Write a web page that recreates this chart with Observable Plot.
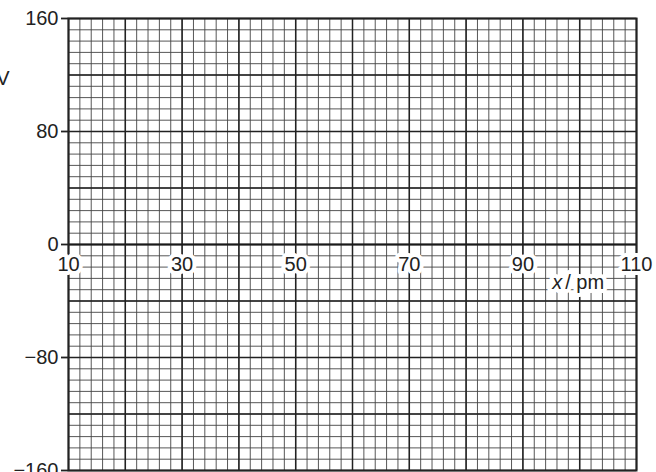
<!DOCTYPE html>
<html>
<head>
<meta charset="utf-8">
<script src="https://cdn.jsdelivr.net/npm/d3@7"></script>
<script src="https://cdn.jsdelivr.net/npm/@observablehq/plot@0.6"></script>
<style>
  html, body { margin: 0; padding: 0; background: #fff; }
  #chart { width: 656px; height: 472px; overflow: hidden; }
</style>
</head>
<body>
<div id="chart"></div>
<script>
// Axis extents and tick labels
const xDomain = [10, 110];
const yDomain = [-160, 160];
const xTickLabels = [10, 30, 50, 70, 90, 110];
const yTickLabels = [160, 80, 0, -80, -160];
const xMinorStep = 2, xMajorStep = 10;
const yMinorStep = 8, yMajorStep = 40;
const xAxisLabel = "x";
const xAxisUnit = "/ pm";
const yAxisLabel = "V";

const xMinor = d3.range(xDomain[0], xDomain[1] + 0.001, xMinorStep);
const xMajor = d3.range(xDomain[0], xDomain[1] + 0.001, xMajorStep);
const yMinor = d3.range(yDomain[0], yDomain[1] + 0.001, yMinorStep);
const yMajor = d3.range(yDomain[0], yDomain[1] + 0.001, yMajorStep);

const fmt = d => d < 0 ? "\u2212" + Math.abs(d) : String(d);
const font = "'Liberation Sans', Arial, Helvetica, sans-serif";
const fs = 20;

const chart = Plot.plot({
  width: 656,
  height: 472,
  marginLeft: 68,
  marginRight: 20,
  marginTop: 18,
  marginBottom: 2,
  style: { fontFamily: font, fontSize: fs + "px", background: "#fff", color: "#222" },
  x: { domain: xDomain, axis: null },
  y: { domain: yDomain, axis: null },
  marks: [
    Plot.ruleX(xMinor, { stroke: "#444", strokeWidth: 0.9 }),
    Plot.ruleY(yMinor, { stroke: "#444", strokeWidth: 0.9 }),
    Plot.ruleX(xMajor, { stroke: "#222", strokeWidth: 1.5 }),
    Plot.ruleY(yMajor, { stroke: "#222", strokeWidth: 1.5 }),
    Plot.ruleY([0], { stroke: "#1a1a1a", strokeWidth: 2.2 }),
    Plot.frame({ stroke: "#222", strokeWidth: 2 }),
    Plot.axisY(yTickLabels, {
      tickSize: 7, tickPadding: 3, tickFormat: fmt, fontSize: fs,
      stroke: "#222", strokeWidth: 1.8, fill: "#222", label: null
    }),
    Plot.text(xTickLabels, {
      x: d => d, y: () => 0, text: fmt, dy: 20,
      fontSize: fs, fill: "#222", stroke: "white", strokeWidth: 8,
      strokeLinejoin: "round", paintOrder: "stroke"
    }),
    Plot.text([xAxisLabel], {
      x: () => 100, y: () => 0, text: d => d, dx: -17.5, dy: 38,
      textAnchor: "end", fontStyle: "italic", fontSize: fs, fill: "#222",
      stroke: "white", strokeWidth: 8, strokeLinejoin: "round", paintOrder: "stroke"
    }),
    Plot.text([xAxisUnit], {
      x: () => 100, y: () => 0, text: d => d, dx: -14.5, dy: 38,
      textAnchor: "start", fontSize: fs, fill: "#222",
      stroke: "white", strokeWidth: 8, strokeLinejoin: "round", paintOrder: "stroke"
    }),
    Plot.text([yAxisLabel], {
      frameAnchor: "top-left", text: d => d, dx: -59, dy: 52,
      textAnchor: "end", fontSize: fs, fill: "#222"
    })
  ]
});
document.getElementById("chart").appendChild(chart);
</script>
</body>
</html>
